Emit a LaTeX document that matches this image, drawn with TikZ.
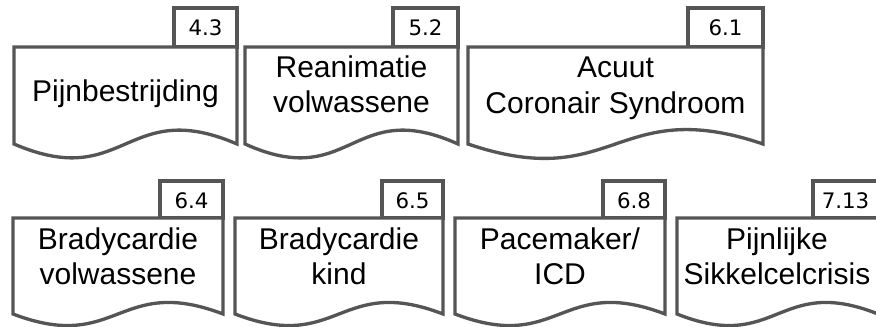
\documentclass[tikz,border=0pt]{standalone}
\usepackage{fontspec}
\setmainfont{Liberation Sans}
\newfontfamily\tabfont{DejaVu Sans}
\definecolor{edge}{HTML}{555555}
\tikzset{
  docline/.style={draw=edge, line width=2.5pt, fill=white, line join=miter},
  maintext/.style={inner sep=0pt, anchor=base, font=\fontsize{22.5}{26}\selectfont},
  tabtext/.style={inner sep=0pt, anchor=base, font=\tabfont\fontsize{16}{19}\selectfont},
}
% #1 x0, #2 x1, #3 top, #4 bottom corner, #5 wave depth, #6 tab top, #7 tab width, #8 name, #9 label
\newcommand{\docbox}[9]{%
  \pgfmathsetmacro{\xm}{(#1+#2)/2}%
  \pgfmathsetmacro{\tx}{#2-#7}%
  \pgfmathsetmacro{\ta}{#4-#5}%
  \pgfmathsetmacro{\tb}{#4+#5}%
  \pgfmathsetmacro{\tc}{#6+27.5}%
  \draw[docline] (\tx,#6) rectangle (#2,#3);
  \node[tabtext] (#8tab) at ({(\tx+#2)/2},\tc) {#9};
  \draw[docline] (#1,#3) -- (#2,#3) -- (#2,#4)
     .. controls (\xm,\ta) and (\xm,\tb) .. (#1,#4) -- cycle;
}
\begin{document}
\begin{tikzpicture}[x=0.75pt,y=-0.75pt]
\useasboundingbox (0,0) rectangle (876,327);
% top row
\docbox{14}{237}{47}{144}{48}{8}{63}{a}{4.3}
\node[maintext] (a1) at (125.5,102) {Pijnbestrijding};
\docbox{245}{458}{47}{144}{48}{8}{65}{b}{5.2}
\node[maintext] (b1) at (351.5,78) {Reanimatie};
\node[maintext] (b2) at (351.5,113) {volwassene};
\docbox{468}{763}{47}{144}{50}{8}{75}{c}{6.1}
\node[maintext] (c1) at (615.5,78) {Acuut};
\node[maintext] (c2) at (615.5,114) {Coronair Syndroom};
% bottom row
\docbox{13}{223}{218}{314}{40}{181}{63}{d}{6.4}
\node[maintext] (d1) at (118,250) {Bradycardie};
\node[maintext] (d2) at (118,285) {volwassene};
\docbox{235}{443}{218}{314}{40}{181}{61}{e}{6.5}
\node[maintext] (e1) at (339,250) {Bradycardie};
\node[maintext] (e2) at (339,285) {kind};
\docbox{455}{665}{218}{314}{40}{181}{62}{f}{6.8}
\node[maintext] (f1) at (560,250) {Pacemaker/};
\node[maintext] (f2) at (560,285) {ICD};
\docbox{677}{878}{218}{314}{40}{181}{65}{g}{7.13}
\node[maintext] (g1) at (777,250) {Pijnlijke};
\node[maintext] (g2) at (777,285) {Sikkelcelcrisis};
\end{tikzpicture}
\end{document}
